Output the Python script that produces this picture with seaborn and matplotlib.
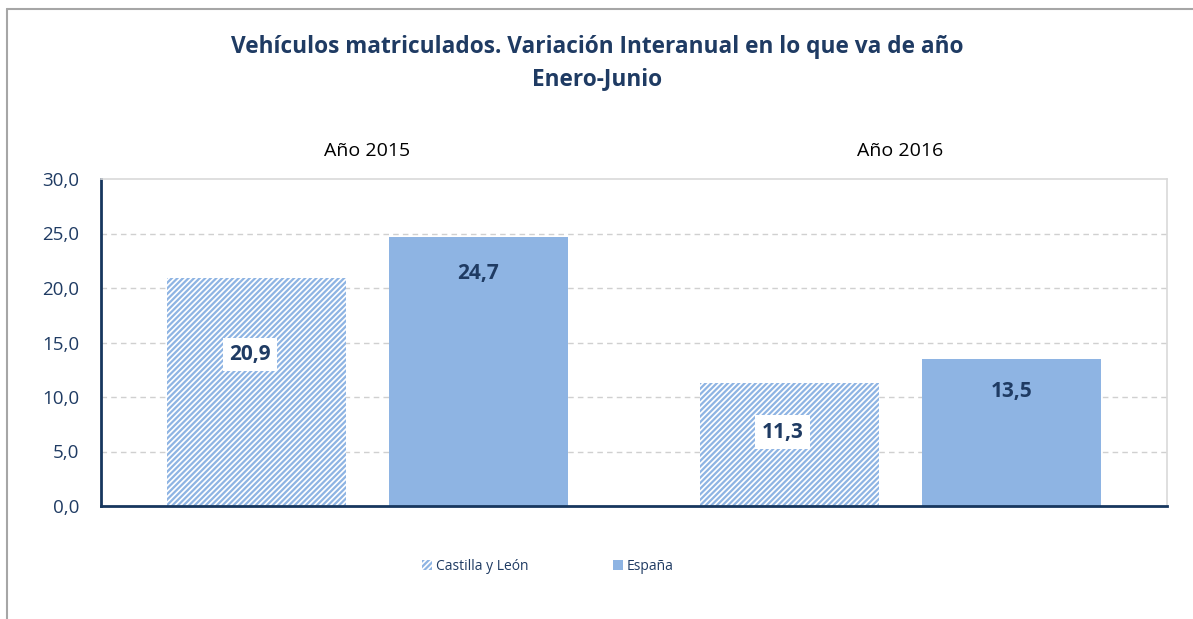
import matplotlib
matplotlib.use("Agg")
import matplotlib.pyplot as plt
import seaborn as sns
import pandas as pd
from matplotlib.patches import Patch
from matplotlib.lines import Line2D

years = ["Año 2015", "Año 2016"]
regions = ["Castilla y León", "España"]
castilla = [20.9, 11.3]
espana = [24.7, 13.5]
yticks = [0, 5, 10, 15, 20, 25, 30]

NAVY = "#1F3B63"
BLUE = "#8EB4E3"

df = pd.DataFrame({
    "year": years * 2,
    "region": [regions[0]] * 2 + [regions[1]] * 2,
    "value": castilla + espana,
})

sns.set_theme(style="white")
plt.rcParams["font.family"] = ["Open Sans", "DejaVu Sans"]
plt.rcParams["hatch.linewidth"] = 1.6

fig = plt.figure(figsize=(11.93, 6.19), dpi=100)
ax = fig.add_axes([101 / 1193, 1 - 506 / 619, 1066 / 1193, 327 / 619])

sns.barplot(data=df, x="year", y="value", hue="region", order=years,
            hue_order=regions, palette=[BLUE, BLUE], width=0.833, gap=0.198,
            ax=ax, legend=False, saturation=1)

containers = ax.containers
for p in containers[0].patches:
    p.set_facecolor("white")
    p.set_edgecolor(BLUE)
    p.set_hatch("//////")
    p.set_linewidth(0)
for p in containers[1].patches:
    p.set_facecolor(BLUE)
    p.set_edgecolor(BLUE)
    p.set_linewidth(0)

ax.set_xlim(-0.5, 1.5)
ax.set_ylim(0, 30)
ax.set_yticks(yticks)
ax.set_yticklabels([f"{v:.1f}".replace(".", ",") for v in yticks],
                   fontsize=13.5, color=NAVY)
ax.set_xticks([])
ax.set_xlabel("")
ax.set_ylabel("")
ax.tick_params(axis="y", length=0, pad=15.5)

for y in yticks[1:-1]:
    ax.axhline(y, color="#D0D0D0", lw=1, ls=(0, (4, 3)), zorder=0)

for side in ["top", "right"]:
    ax.spines[side].set_color("#D9D9D9")
    ax.spines[side].set_linewidth(1.2)
for side in ["left", "bottom"]:
    ax.spines[side].set_color("#17375E")
    ax.spines[side].set_linewidth(2)

# group labels above plot
for i, yr in enumerate(years):
    ax.text(i, 1.085, yr, transform=ax.get_xaxis_transform(), ha="center",
            va="center", fontsize=14, color="black")

# data labels
label_frac = [[0.665, 0.865], [0.60, 0.78]]
for ci, cont in enumerate(containers):
    for gi, p in enumerate(cont.patches):
        v = p.get_height()
        x = p.get_x() + p.get_width() / 2
        ax.text(x - (0.013 if ci == 0 else 0), v * label_frac[gi][ci],
                f"{v:.1f}".replace(".", ","),
                ha="center", va="center", fontsize=15, fontweight="bold",
                color=NAVY,
                bbox=dict(boxstyle="square,pad=0.3", fc="white", ec="none")
                if ci == 0 else None)

fig.text(597 / 1193, 1 - 47 / 619, "Vehículos matriculados. Variación Interanual en lo que va de año",
         ha="center", va="center", fontsize=16.3, fontweight="bold", color=NAVY)
fig.text(597 / 1193, 1 - 79 / 619, "Enero-Junio",
         ha="center", va="center", fontsize=16.3, fontweight="bold", color=NAVY)

handles = [Patch(facecolor="white", edgecolor=BLUE, hatch="//////", linewidth=0),
           Patch(facecolor=BLUE, edgecolor=BLUE, linewidth=0)]
fig.legend(handles, regions, loc="center", bbox_to_anchor=(548 / 1193, 1 - 566 / 619),
           ncol=2, frameon=False, fontsize=10, labelcolor=NAVY,
           handlelength=0.7, handleheight=0.7, handletextpad=0.3, columnspacing=6.1)

# outer frame
fig.add_artist(Line2D([7 / 1193, 7 / 1193], [0, 1 - 9 / 619], transform=fig.transFigure,
                      color="#A6A6A6", lw=1.5))
fig.add_artist(Line2D([7 / 1193, 1], [1 - 9 / 619, 1 - 9 / 619], transform=fig.transFigure,
                      color="#A6A6A6", lw=1.5))

fig.savefig("out.png", dpi=100)
